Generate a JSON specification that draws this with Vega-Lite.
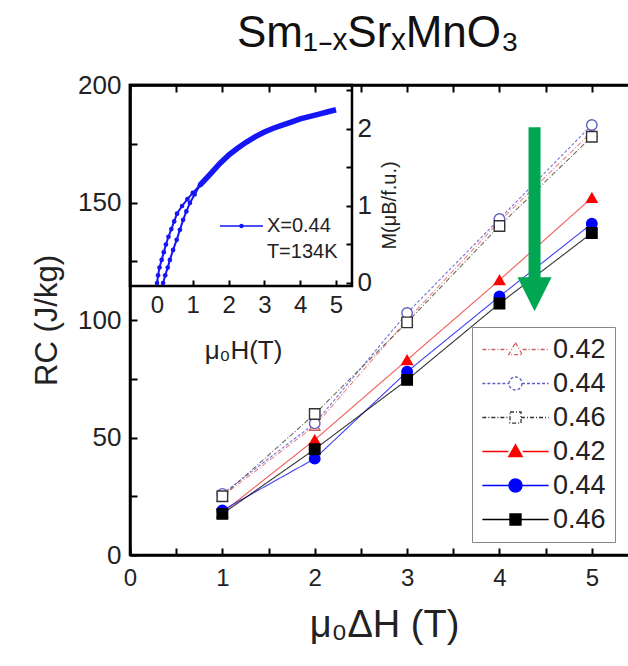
{
  "$schema": "https://vega.github.io/schema/vega-lite/v6.json",
  "autosize": "none",
  "width": 508,
  "height": 470,
  "padding": {"left": 130, "top": 85, "right": 0, "bottom": 111},
  "background": "white",
  "title": {"text": "Sm₁₋ₓSrₓMnO₃", "font": "Liberation Sans", "fontSize": 44, "fontWeight": "normal", "color": "#111", "anchor": "middle", "offset": 16, "dx": -6},
  "config": {"view": {"stroke": "black", "strokeWidth": 2.5}},
  "datasets": {
    "main": [
      {"h": 1, "rc": 25, "series": "o42"}, {"h": 2, "rc": 55, "series": "o42"}, {"h": 3, "rc": 100, "series": "o42"}, {"h": 4, "rc": 142, "series": "o42"}, {"h": 5, "rc": 180, "series": "o42"},
      {"h": 1, "rc": 26, "series": "o44"}, {"h": 2, "rc": 56, "series": "o44"}, {"h": 3, "rc": 103, "series": "o44"}, {"h": 4, "rc": 143, "series": "o44"}, {"h": 5, "rc": 183, "series": "o44"},
      {"h": 1, "rc": 25, "series": "o46"}, {"h": 2, "rc": 60, "series": "o46"}, {"h": 3, "rc": 99, "series": "o46"}, {"h": 4, "rc": 140, "series": "o46"}, {"h": 5, "rc": 178, "series": "o46"},
      {"h": 1, "rc": 18, "series": "f42"}, {"h": 2, "rc": 49, "series": "f42"}, {"h": 3, "rc": 83, "series": "f42"}, {"h": 4, "rc": 117, "series": "f42"}, {"h": 5, "rc": 152, "series": "f42"},
      {"h": 1, "rc": 19, "series": "f44"}, {"h": 2, "rc": 41, "series": "f44"}, {"h": 3, "rc": 78, "series": "f44"}, {"h": 4, "rc": 110, "series": "f44"}, {"h": 5, "rc": 141, "series": "f44"},
      {"h": 1, "rc": 17.5, "series": "f46"}, {"h": 2, "rc": 45, "series": "f46"}, {"h": 3, "rc": 74.5, "series": "f46"}, {"h": 4, "rc": 107, "series": "f46"}, {"h": 5, "rc": 137, "series": "f46"}
    ],
    "inset": [
      {"h": 1.2, "m": 1.27, "br": "up"}, {"h": 1.5, "m": 1.42, "br": "up"}, {"h": 1.75, "m": 1.55, "br": "up"}, {"h": 2, "m": 1.66, "br": "up"}, {"h": 2.25, "m": 1.75, "br": "up"}, {"h": 2.5, "m": 1.83, "br": "up"}, {"h": 2.75, "m": 1.9, "br": "up"}, {"h": 3, "m": 1.96, "br": "up"}, {"h": 3.25, "m": 2.01, "br": "up"}, {"h": 3.5, "m": 2.05, "br": "up"}, {"h": 3.75, "m": 2.09, "br": "up"}, {"h": 4, "m": 2.13, "br": "up"}, {"h": 4.25, "m": 2.16, "br": "up"}, {"h": 4.5, "m": 2.19, "br": "up"}, {"h": 4.75, "m": 2.22, "br": "up"}, {"h": 5, "m": 2.25, "br": "up"},
      {"h": 0, "m": 0, "br": "L"}, {"h": 0.03, "m": 0.1, "br": "L"}, {"h": 0.07, "m": 0.2, "br": "L"}, {"h": 0.13, "m": 0.3, "br": "L"}, {"h": 0.19, "m": 0.4, "br": "L"}, {"h": 0.25, "m": 0.5, "br": "L"}, {"h": 0.32, "m": 0.6, "br": "L"}, {"h": 0.4, "m": 0.7, "br": "L"}, {"h": 0.48, "m": 0.8, "br": "L"}, {"h": 0.56, "m": 0.9, "br": "L"}, {"h": 0.7, "m": 1.0, "br": "L"}, {"h": 0.85, "m": 1.09, "br": "L"}, {"h": 1.0, "m": 1.17, "br": "L"}, {"h": 1.2, "m": 1.27, "br": "L"},
      {"h": 0.17, "m": 0, "br": "R"}, {"h": 0.23, "m": 0.1, "br": "R"}, {"h": 0.3, "m": 0.2, "br": "R"}, {"h": 0.36, "m": 0.3, "br": "R"}, {"h": 0.45, "m": 0.43, "br": "R"}, {"h": 0.55, "m": 0.56, "br": "R"}, {"h": 0.64, "m": 0.69, "br": "R"}, {"h": 0.73, "m": 0.82, "br": "R"}, {"h": 0.82, "m": 0.93, "br": "R"}, {"h": 0.92, "m": 1.04, "br": "R"}, {"h": 1.05, "m": 1.15, "br": "R"}, {"h": 1.2, "m": 1.27, "br": "R"}
    ]
  },
  "layer": [
    {
      "layer": [
        {
          "data": {"name": "main"},
          "mark": {"type": "line", "strokeWidth": 1.1, "opacity": 0.85},
          "encoding": {
            "x": {"field": "h", "type": "quantitative", "scale": {"domain": [0, 5.5], "nice": false, "zero": false},
              "axis": {"orient": "bottom", "values": [0, 0.5, 1, 1.5, 2, 2.5, 3, 3.5, 4, 4.5, 5, 5.5], "labelExpr": "datum.value % 1 == 0 ? format(datum.value, 'd') : ''", "title": "μ₀ΔH (T)", "titleFont": "Liberation Sans", "titleFontSize": 38, "titleFontWeight": "normal", "titleColor": "#222", "titlePadding": 16, "labelFont": "Liberation Sans", "labelFontSize": 24, "labelColor": "#222", "labelFlush": false, "tickSize": -7, "labelPadding": 18, "tickWidth": 2, "tickColor": "black", "domainWidth": 2.5, "domainColor": "black", "grid": false}},
            "y": {"field": "rc", "type": "quantitative", "scale": {"domain": [0, 200], "nice": false},
              "axis": {"orient": "left", "values": [0, 25, 50, 75, 100, 125, 150, 175, 200], "labelExpr": "datum.value % 50 == 0 ? format(datum.value, 'd') : ''", "title": "RC (J/kg)", "titleFont": "Liberation Sans", "titleFontSize": 31, "titleFontWeight": "normal", "titleColor": "#222", "titlePadding": 14, "labelFont": "Liberation Sans", "labelFontSize": 26, "labelColor": "#222", "labelFlush": false, "tickSize": -7, "labelPadding": 16, "tickWidth": 2, "tickColor": "black", "domainWidth": 2.5, "domainColor": "black", "grid": false}},
            "stroke": {"field": "series", "type": "nominal", "scale": {"domain": ["o42", "o44", "o46", "f42", "f44", "f46"], "range": ["#e87070", "#5a5ad8", "#555544", "#f04040", "#2020f0", "#111111"]}, "legend": null},
            "strokeDash": {"field": "series", "type": "nominal", "scale": {"domain": ["o42", "o44", "o46", "f42", "f44", "f46"], "range": [[5, 2, 1, 2], [3, 2], [5, 2, 1, 2], [1, 0], [1, 0], [1, 0]]}, "legend": null}
          }
        },
        {
          "data": {"name": "main"},
          "mark": {"type": "point", "size": 110, "strokeWidth": 1.4, "opacity": 1},
          "encoding": {
            "x": {"field": "h", "type": "quantitative", "axis": {"orient": "top", "values": [0, 0.5, 1, 1.5, 2, 2.5, 3, 3.5, 4, 4.5, 5, 5.5], "labels": false, "title": null, "tickSize": -7, "tickWidth": 2, "tickColor": "black", "domainWidth": 2.5, "domainColor": "black", "grid": false}},
            "y": {"field": "rc", "type": "quantitative", "axis": null},
            "shape": {"field": "series", "type": "nominal", "scale": {"domain": ["o42", "o44", "o46", "f42", "f44", "f46"], "range": ["triangle-up", "circle", "square", "triangle-up", "circle", "square"]}, "legend": null},
            "stroke": {"field": "series", "type": "nominal", "scale": {"domain": ["o42", "o44", "o46", "f42", "f44", "f46"], "range": ["#d06060", "#6060c0", "#333333", "#ff0000", "#0000ff", "#000000"]}, "legend": null},
            "fill": {"field": "series", "type": "nominal", "scale": {"domain": ["o42", "o44", "o46", "f42", "f44", "f46"], "range": ["white", "white", "white", "#ff0000", "#0000ff", "#000000"]}, "legend": null}
          }
        },
        {
          "data": {"name": "main"},
          "transform": [{"filter": "datum.h > 100"}],
          "mark": {"type": "point", "size": 169, "strokeWidth": 1.3, "opacity": 1},
          "encoding": {
            "x": {"field": "h", "type": "quantitative", "axis": null},
            "y": {"field": "rc", "type": "quantitative", "axis": null},
            "shape": {"field": "series", "type": "nominal",
              "scale": {"domain": ["o42", "o44", "o46", "f42", "f44", "f46"], "range": [
                "M-5.1,0H-1.1M1.1,0H5.1M0,-1.05L1.05,0.8L-1.05,0.8Z",
                "M-5.1,0H-1M1,0H5.1M1,0A1,1,0,1,1,-1,0A1,1,0,1,1,1,0Z",
                "M-5.1,0H-0.85M0.85,0H5.1M-0.85,-0.85H0.85V0.85H-0.85Z",
                "M-5.1,0H-1.1M1.1,0H5.1M0,-1.05L1.05,0.8L-1.05,0.8Z",
                "M-5.1,0H-1M1,0H5.1M1,0A1,1,0,1,1,-1,0A1,1,0,1,1,1,0Z",
                "M-5.1,0H-0.85M0.85,0H5.1M-0.85,-0.85H0.85V0.85H-0.85Z"]},
              "legend": {"orient": "none", "legendX": 342, "legendY": 242, "title": null, "padding": 9, "strokeColor": "#888888", "fillColor": "white", "symbolSize": 169, "symbolStrokeWidth": 1.3, "symbolOffset": 21, "labelOffset": 24, "rowPadding": 6, "labelFont": "Liberation Sans", "labelFontSize": 27, "labelColor": "#222", "labelExpr": "'0.' + slice(datum.label, 1) + '      '"}},
            "stroke": {"field": "series", "type": "nominal", "scale": {"domain": ["o42", "o44", "o46", "f42", "f44", "f46"], "range": ["#d06060", "#6060c0", "#333333", "#ff0000", "#0000ff", "#000000"]}},
            "fill": {"field": "series", "type": "nominal", "scale": {"domain": ["o42", "o44", "o46", "f42", "f44", "f46"], "range": ["white", "white", "white", "#ff0000", "#0000ff", "#000000"]}},
            "strokeDash": {"field": "series", "type": "nominal", "scale": {"domain": ["o42", "o44", "o46", "f42", "f44", "f46"], "range": [[4, 2, 1, 2], [3, 2], [4, 2, 1, 2], [1, 0], [1, 0], [1, 0]]}}
          }
        },
        {
          "data": {"values": [{"ax": 4.38, "ay1": 182, "ay2": 117}]},
          "mark": {"type": "rule", "strokeWidth": 12, "color": "#00a651", "strokeCap": "butt"},
          "encoding": {
            "x": {"field": "ax", "type": "quantitative", "axis": null},
            "y": {"field": "ay1", "type": "quantitative", "axis": null},
            "y2": {"field": "ay2"}
          }
        },
        {
          "data": {"values": [{"ax": 4.38, "ay": 111}]},
          "mark": {"type": "point", "shape": "M-1,-1L1,-1L0,1Z", "size": 1156, "filled": true, "color": "#00a651", "opacity": 1, "strokeWidth": 0},
          "encoding": {
            "x": {"field": "ax", "type": "quantitative", "axis": null},
            "y": {"field": "ay", "type": "quantitative", "axis": null}
          }
        }
      ],
      "resolve": {"scale": {"shape": "independent", "stroke": "independent", "fill": "independent", "strokeDash": "independent"}, "axis": {"x": "independent", "y": "independent"}}
    },
    {
      "layer": [
        {
          "data": {"values": [{"h1": -0.754, "h2": 5.447, "m1": -0.039, "m2": 2.571}]},
          "mark": {"type": "rect", "fill": null, "fillOpacity": 0, "stroke": "black", "strokeWidth": 2.5},
          "encoding": {
            "x": {"field": "h1", "type": "quantitative", "scale": {"domain": [-0.754, 13.436], "nice": false, "zero": false},
              "axis": {"orient": "bottom", "offset": -269, "values": [0, 1, 2, 3, 4, 5], "labelExpr": "format(datum.value, 'd')", "domain": false, "grid": false, "tickSize": -6, "tickWidth": 2, "tickColor": "black", "labelPadding": 13, "labelFont": "Liberation Sans", "labelFontSize": 24, "labelColor": "#222", "labelFlush": false, "title": "μ₀H(T)", "titleFont": "Liberation Sans", "titleFontSize": 26, "titleFontWeight": "normal", "titleColor": "#222", "titleX": 113, "titleY": 64, "titleBaseline": "middle"}},
            "x2": {"field": "h2"},
            "y": {"field": "m1", "type": "quantitative", "scale": {"domain": [-3.532, 2.571], "nice": false, "zero": false},
              "axis": {"orient": "right", "offset": -286, "values": [0, 0.5, 1, 1.5, 2, 2.5], "labelExpr": "datum.value % 1 == 0 ? format(datum.value, 'd') : ''", "domain": false, "grid": false, "tickSize": -6, "tickWidth": 2, "tickColor": "black", "labelPadding": 11, "labelFont": "Liberation Sans", "labelFontSize": 26, "labelColor": "#222", "labelFlush": false, "title": "M(μB/f.u.)", "titleFont": "Liberation Sans", "titleFontSize": 20, "titleFontWeight": "normal", "titleColor": "#222", "titleAngle": 270, "titleX": 37, "titleY": 120, "titleBaseline": "middle", "titleAlign": "center"}},
            "y2": {"field": "m2"}
          }
        },
        {
          "data": {"name": "inset"},
          "transform": [{"filter": "datum.br == 'up'"}],
          "mark": {"type": "line", "strokeWidth": 5.5, "color": "#1515f5"},
          "encoding": {
            "x": {"field": "h", "type": "quantitative"},
            "y": {"field": "m", "type": "quantitative"}
          }
        },
        {
          "data": {"name": "inset"},
          "transform": [{"filter": "datum.br != 'up'"}],
          "mark": {"type": "line", "strokeWidth": 2, "color": "#1515f5", "point": {"filled": true, "size": 22, "color": "#1515f5", "opacity": 1}},
          "encoding": {
            "x": {"field": "h", "type": "quantitative"},
            "y": {"field": "m", "type": "quantitative"},
            "detail": {"field": "br"}
          }
        },
        {
          "data": {"values": [{"h1": 1.76, "h2": 2.96, "m": 0.74}]},
          "mark": {"type": "rule", "strokeWidth": 1.5, "color": "#1515f5"},
          "encoding": {
            "x": {"field": "h1", "type": "quantitative"},
            "x2": {"field": "h2"},
            "y": {"field": "m", "type": "quantitative"}
          }
        },
        {
          "data": {"values": [{"h": 2.36, "m": 0.74}]},
          "mark": {"type": "point", "filled": true, "size": 20, "color": "#1515f5", "opacity": 1},
          "encoding": {
            "x": {"field": "h", "type": "quantitative"},
            "y": {"field": "m", "type": "quantitative"}
          }
        },
        {
          "data": {"values": [{"h": 3.07, "m": 0.74, "t": "X=0.44"}, {"h": 3.07, "m": 0.4, "t": "T=134K"}]},
          "mark": {"type": "text", "align": "left", "baseline": "middle", "font": "Liberation Sans", "fontSize": 20, "color": "#222"},
          "encoding": {
            "x": {"field": "h", "type": "quantitative"},
            "y": {"field": "m", "type": "quantitative"},
            "text": {"field": "t"}
          }
        }
      ]
    }
  ],
  "resolve": {"scale": {"x": "independent", "y": "independent"}, "axis": {"x": "independent", "y": "independent"}}
}
